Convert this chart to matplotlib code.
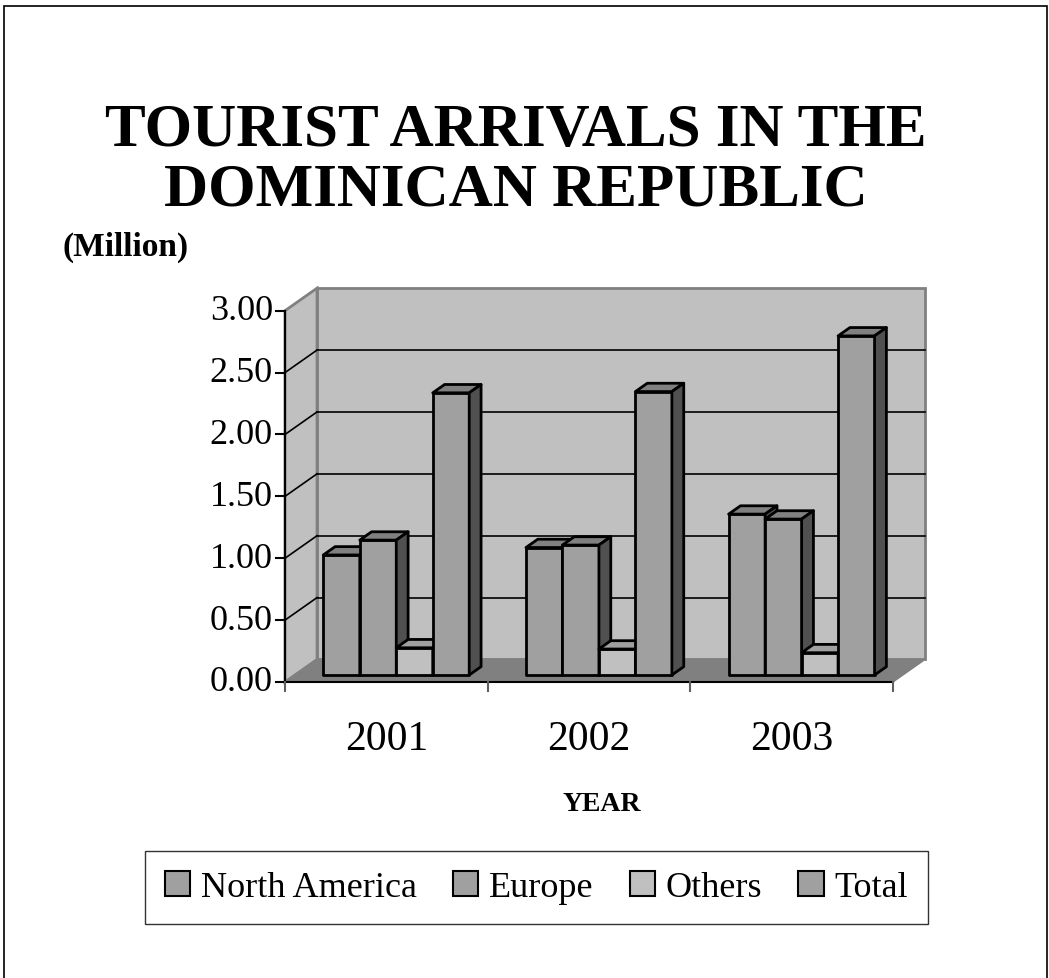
import matplotlib
matplotlib.use('Agg')
import numpy as np
from matplotlib import pyplot as plt
from matplotlib.patches import Polygon, Rectangle, Patch

plt.rcParams['font.family'] = ['Liberation Serif', 'DejaVu Serif']

years = ['2001', '2002', '2003']
series = ['North America', 'Europe', 'Others', 'Total']
north_america = [0.97, 1.03, 1.30]
europe = [1.09, 1.05, 1.26]
others = [0.22, 0.21, 0.18]
total = [2.28, 2.29, 2.74]
yticks = [0.0, 0.5, 1.0, 1.5, 2.0, 2.5, 3.0]

values = [north_america, europe, others, total]
front_col = ['#a0a0a0', '#a0a0a0', '#c0c0c0', '#a0a0a0']
top_col = ['#808080', '#808080', '#a0a0a0', '#808080']
side_col = ['#505050', '#505050', '#606060', '#505050']

fig = plt.figure(figsize=(10.49, 9.79), dpi=100)
ax = fig.add_axes([285 / 1049, 1 - 683 / 979, 608 / 1049, 371.3 / 979])
ax.set_xlim(0, 3)
ax.set_ylim(0, 3)
ax.axis('off')

# depth of the 3d box, in data units
DX, DY = 0.158, 0.182

# walls and floor
ax.add_patch(Polygon([(DX, DY), (3 + DX, DY), (3 + DX, 3 + DY), (DX, 3 + DY)],
                     closed=True, fc='#c0c0c0', ec='#808080', lw=2, clip_on=False, zorder=1))
ax.add_patch(Polygon([(0, 0), (DX, DY), (DX, 3 + DY), (0, 3)],
                     closed=True, fc='#c0c0c0', ec='#808080', lw=2, clip_on=False, zorder=1))
ax.add_patch(Polygon([(0, 0), (3, 0), (3 + DX, DY), (DX, DY)],
                     closed=True, fc='#808080', ec='#808080', lw=1, clip_on=False, zorder=1))
for v in yticks[1:-1]:
    ax.plot([DX, 3 + DX], [v + DY, v + DY], color='black', lw=1.2, clip_on=False, zorder=2)
    ax.plot([0, DX], [v, v + DY], color='black', lw=1.2, clip_on=False, zorder=2)

# bars
bw = 0.18
f0, fd = 0.31, 0.37
z = 3
for i in range(len(years)):
    start = i + (1 - bw * len(series)) / 2
    for j in range(len(series)):
        v = values[j][i]
        x0 = start + j * bw + f0 * DX
        y0 = f0 * DY
        bx, by = fd * DX, fd * DY
        kw = dict(closed=True, ec='black', lw=2, joinstyle='round', clip_on=False)
        ax.add_patch(Polygon([(x0, y0), (x0 + bw, y0), (x0 + bw, y0 + v), (x0, y0 + v)],
                             fc=front_col[j], zorder=z, **kw))
        ax.add_patch(Polygon([(x0, y0 + v), (x0 + bw, y0 + v), (x0 + bw + bx, y0 + v + by),
                              (x0 + bx, y0 + v + by)], fc=top_col[j], zorder=z, **kw))
        ax.add_patch(Polygon([(x0 + bw, y0), (x0 + bw + bx, y0 + by), (x0 + bw + bx, y0 + v + by),
                              (x0 + bw, y0 + v)], fc=side_col[j], zorder=z, **kw))
        z += 1

# front axes
ax.plot([0, 0], [0, 3], color='black', lw=1.5, clip_on=False, zorder=50)
ax.plot([0, 3], [0, 0], color='black', lw=1.5, clip_on=False, zorder=50)
for v in yticks:
    ax.plot([-0.045, 0], [v, v], color='black', lw=1.5, clip_on=False, zorder=50)
    ax.text(-0.06, v, f'{v:.2f}', ha='right', va='center', fontsize=26)
for k in range(len(years) + 1):
    ax.plot([k, k], [0, -0.07], color='#606060', lw=1.5, clip_on=False, zorder=50)
for i, yr in enumerate(years):
    ax.text(i + 0.5, -0.46, yr, ha='center', va='center', fontsize=30)

fig.text(516 / 1049, 1 - 131 / 979, 'TOURIST ARRIVALS IN THE',
         ha='center', va='center', fontsize=44, fontweight='bold')
fig.text(516 / 1049, 1 - 191 / 979, 'DOMINICAN REPUBLIC',
         ha='center', va='center', fontsize=44, fontweight='bold')
fig.text(62 / 1049, 1 - 247 / 979, '(Million)', ha='left', va='center',
         fontsize=24, fontweight='bold')
fig.text(602 / 1049, 1 - 805 / 979, 'YEAR', ha='center', va='center',
         fontsize=20, fontweight='bold')

handles = [Patch(fc=front_col[j], ec='black', lw=1.5) for j in range(len(series))]
leg = fig.legend(handles, series, loc='center', bbox_to_anchor=(536.5 / 1049, 1 - 888.5 / 979),
                 ncol=4, fontsize=26, frameon=True, fancybox=False, edgecolor='black',
                 handlelength=0.7, handleheight=0.7, handletextpad=0.3,
                 columnspacing=1.0, borderpad=0.55)
leg.get_frame().set_linewidth(1.0)

fig.add_artist(Rectangle((4 / 1049, -0.02), 1043 / 1049, 1 - 7 / 979 + 0.02,
                         transform=fig.transFigure, fill=False, ec='black', lw=1.2))

fig.savefig('out.png', dpi=100)
